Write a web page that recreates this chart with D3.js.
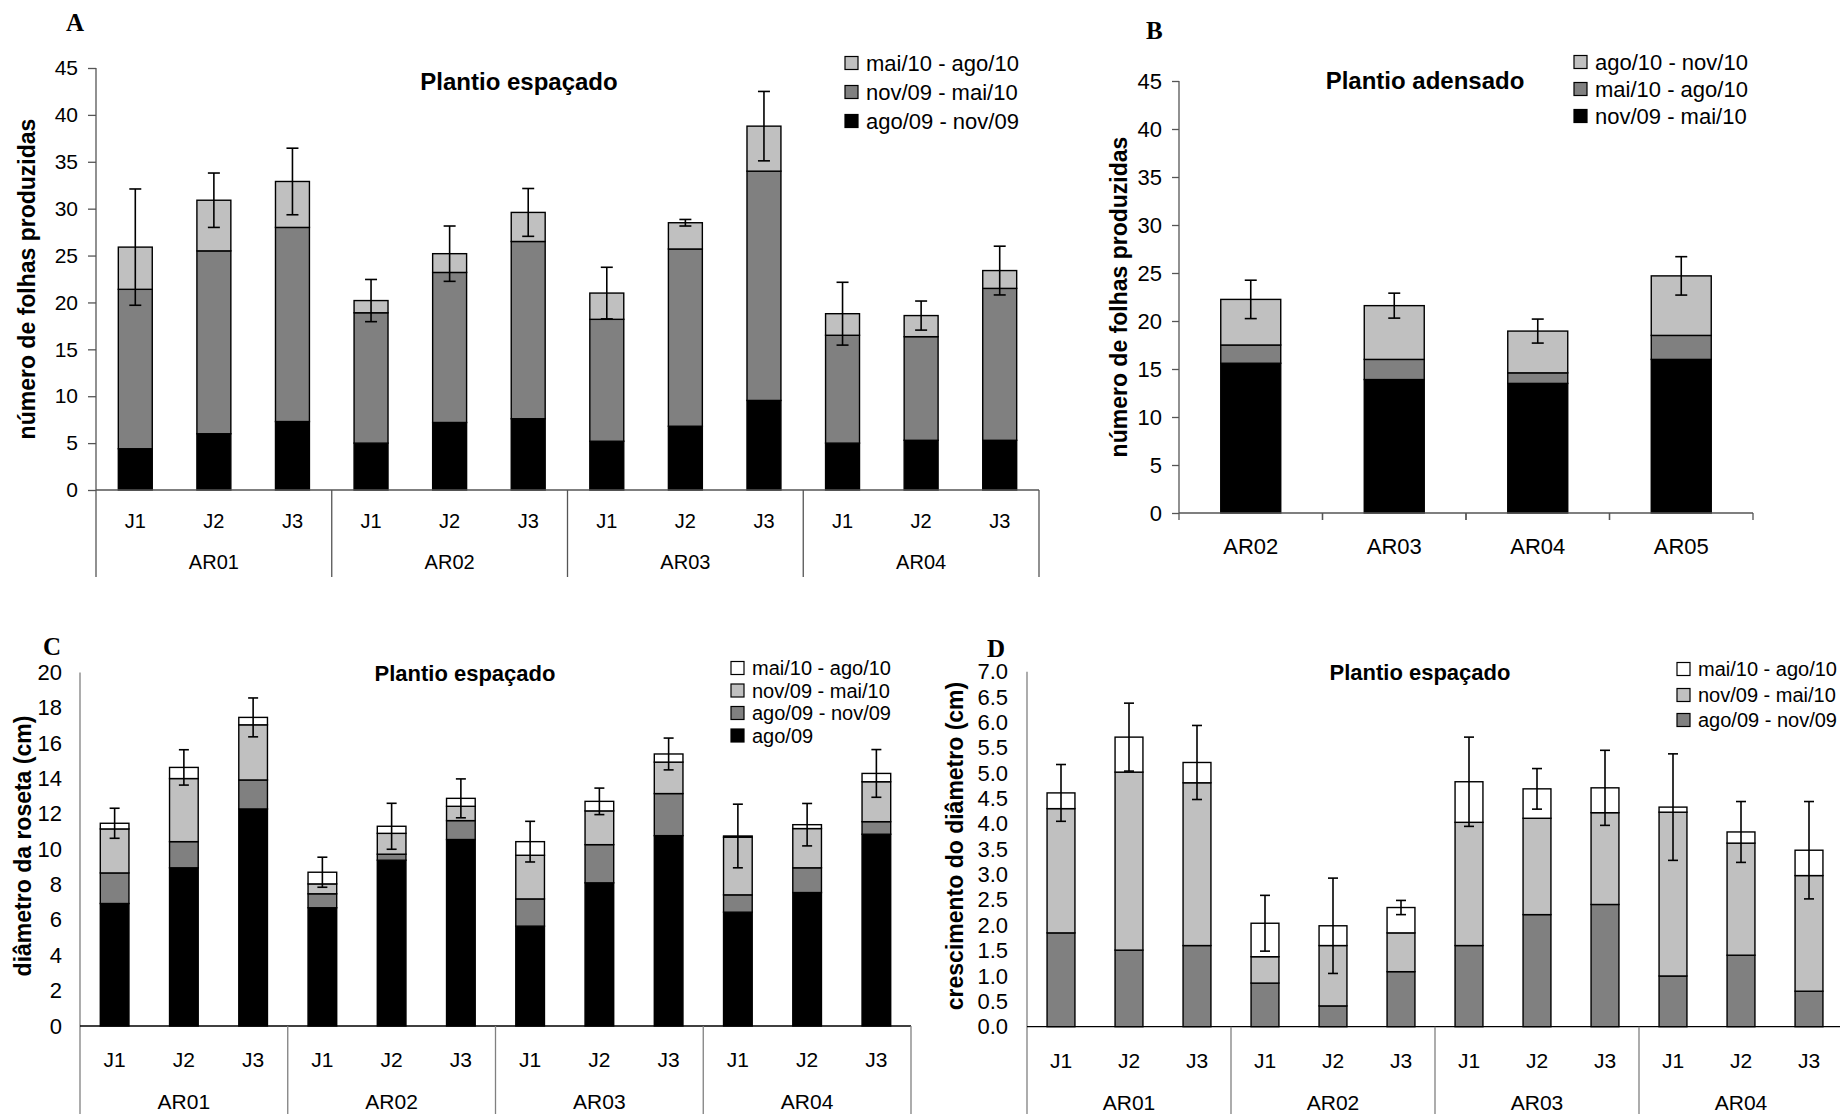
<!DOCTYPE html>
<html>
<head>
<meta charset="utf-8">
<script src="https://cdn.jsdelivr.net/npm/d3@7"></script>
<style>
  body { margin: 0; background: #fff; }
  svg { display: block; }
  text { font-family: "Liberation Sans", Arial, Helvetica, sans-serif; fill: #000; }
  text.letter { font-family: "Liberation Serif", "Times New Roman", serif; }
</style>
</head>
<body>
<svg id="fig" width="1840" height="1114"></svg>
<script>
// ---------------- data ----------------
const plots = ["AR01", "AR02", "AR03", "AR04"];
const clones = ["J1", "J2", "J3"];

// A - leaves produced per period, wide spacing (order: AR01 J1..J3, AR02 J1..J3, ...)
const leavesAgoNov09 = [4.4, 6.0, 7.3, 5.0, 7.2, 7.6, 5.2, 6.8, 9.55, 5.0, 5.3, 5.3];
const leavesNovMai10 = [17.0, 19.5, 20.7, 13.9, 16.0, 18.9, 13.0, 18.9, 24.45, 11.5, 11.05, 16.2];
const leavesMaiAgo10 = [4.5, 5.4, 4.9, 1.3, 2.0, 3.1, 2.8, 2.8, 4.8, 2.3, 2.25, 1.9];
const leavesErrA     = [6.2, 2.9, 3.55, 2.25, 2.95, 2.55, 2.75, 0.35, 3.7, 3.35, 1.55, 2.6];

// B - leaves produced per period, dense planting
const densePlots      = ["AR02", "AR03", "AR04", "AR05"];
const denseNovMai10   = [15.6, 13.9, 13.5, 16.0];
const denseMaiAgo10   = [1.9, 2.1, 1.1, 2.5];
const denseAgoNov10   = [4.75, 5.6, 4.35, 6.2];
const denseErr        = [2.0, 1.3, 1.25, 2.0];

// C - rosette diameter (cm): initial value plus increments
const rosetteAgo09    = [6.93, 8.95, 12.28, 6.69, 9.38, 10.55, 5.65, 8.1, 10.77, 6.44, 7.55, 10.85];
const rosetteAgoNov09 = [1.73, 1.48, 1.64, 0.79, 0.34, 1.07, 1.54, 2.16, 2.38, 0.98, 1.4, 0.71];
const rosetteNovMai10 = [2.49, 3.57, 3.12, 0.56, 1.18, 0.81, 2.47, 1.91, 1.78, 3.26, 2.22, 2.26];
const rosetteMaiAgo10 = [0.32, 0.63, 0.42, 0.66, 0.4, 0.45, 0.77, 0.54, 0.46, 0.07, 0.22, 0.47];
const rosetteErr      = [0.85, 1.0, 1.1, 0.85, 1.3, 1.1, 1.15, 0.75, 0.9, 1.8, 1.2, 1.35];

// D - diameter growth (cm) per period
const growthAgoNov09  = [1.85, 1.51, 1.60, 0.86, 0.41, 1.085, 1.60, 2.21, 2.41, 1.0, 1.41, 0.70];
const growthNovMai10  = [2.45, 3.51, 3.21, 0.52, 1.19, 0.765, 2.43, 1.9, 1.81, 3.23, 2.21, 2.28];
const growthMaiAgo10  = [0.31, 0.69, 0.40, 0.66, 0.39, 0.5, 0.8, 0.58, 0.49, 0.1, 0.22, 0.5];
const growthErr       = [0.56, 0.67, 0.73, 0.55, 0.94, 0.14, 0.88, 0.4, 0.74, 1.05, 0.6, 0.96];

const ticksA = d3.range(0, 46, 5);
const ticksC = d3.range(0, 21, 2);
const ticksD = d3.range(0, 7.01, 0.5);

// ---------------- styles ----------------
const BLACK = "#000000", DARK = "#808080", LIGHT = "#c0c0c0", WHITE = "#ffffff";

const svg = d3.select("#fig");

// rows for the grouped (plot x clone) panels
function groupedRows(keys, arrays, err) {
  const rows = [];
  plots.forEach((p, gi) => clones.forEach((c, ci) => {
    const i = gi * clones.length + ci;
    const r = { group: p, clone: c, err: err[i] };
    keys.forEach((k, j) => r[k] = arrays[j][i]);
    rows.push(r);
  }));
  return rows;
}

function drawPanel(cfg) {
  const g = svg.append("g");
  const y = d3.scaleLinear().domain([0, cfg.yMax]).range([cfg.yZero, cfg.yTop]);

  let x0, x1, xb, bw;
  if (cfg.clones) {
    x0 = d3.scaleBand().domain(cfg.groups).range([cfg.left, cfg.right]);
    x1 = d3.scaleBand().domain(cfg.clones).range([0, x0.bandwidth()])
      .paddingInner(cfg.pad).paddingOuter(cfg.pad / 2);
    xb = r => x0(r.group) + x1(r.clone);
    bw = x1.bandwidth();
  } else {
    x0 = d3.scaleBand().domain(cfg.groups).range([cfg.left, cfg.right])
      .paddingInner(cfg.pad).paddingOuter(cfg.pad / 2);
    xb = r => x0(r.group);
    bw = x0.bandwidth();
  }

  // stacked bars
  const stacked = d3.stack().keys(cfg.keys)(cfg.rows);
  g.append("g").selectAll("g").data(stacked).join("g")
    .attr("fill", (d, i) => cfg.colors[i])
    .selectAll("rect").data(d => d).join("rect")
    .attr("x", d => xb(d.data))
    .attr("width", bw)
    .attr("y", d => y(d[1]))
    .attr("height", d => y(d[0]) - y(d[1]))
    .attr("stroke", "#000")
    .attr("stroke-width", 1.4);

  // error bars on the stack totals
  const tot = r => d3.sum(cfg.keys, k => r[k]);
  const eb = g.append("g").attr("stroke", "#000").attr("stroke-width", 1.6).attr("fill", "none");
  cfg.rows.forEach(r => {
    const cx = xb(r) + bw / 2, t = tot(r);
    const y1 = y(t + r.err), y2 = y(t - r.err);
    eb.append("line").attr("x1", cx).attr("x2", cx).attr("y1", y1).attr("y2", y2);
    eb.append("line").attr("x1", cx - cfg.cap / 2).attr("x2", cx + cfg.cap / 2).attr("y1", y1).attr("y2", y1);
    eb.append("line").attr("x1", cx - cfg.cap / 2).attr("x2", cx + cfg.cap / 2).attr("y1", y2).attr("y2", y2);
  });

  // y axis
  const ya = g.append("g").attr("transform", `translate(${cfg.left},0)`)
    .call(d3.axisLeft(y).tickValues(cfg.yTicks).tickFormat(cfg.fmt)
      .tickSize(cfg.tickSize).tickPadding(cfg.tickPad));
  ya.attr("font-family", null).attr("font-size", null);
  ya.select(".domain").remove();
  ya.selectAll(".tick line").attr("stroke", cfg.axisColor).attr("stroke-width", 1.3);
  ya.selectAll(".tick text").attr("font-size", cfg.tickFont).attr("fill", "#000");

  // y axis line (runs down through the category rows)
  g.append("line").attr("x1", cfg.left).attr("x2", cfg.left)
    .attr("y1", cfg.yTop).attr("y2", cfg.catBottom)
    .attr("stroke", cfg.axisColor).attr("stroke-width", 1.3);
  // baseline
  g.append("line").attr("x1", cfg.left).attr("x2", cfg.right)
    .attr("y1", cfg.yZero).attr("y2", cfg.yZero)
    .attr("stroke", cfg.baseColor).attr("stroke-width", 1.3);

  if (cfg.clones) {
    // clone labels under each plot
    cfg.groups.forEach(p => {
      const a = g.append("g").attr("transform", `translate(${x0(p)},${cfg.yZero})`)
        .call(d3.axisBottom(x1).tickSize(0).tickPadding(cfg.subPad));
      a.attr("font-family", null).attr("font-size", null);
      a.select(".domain").remove();
      a.selectAll("text").attr("font-size", cfg.catFont).attr("fill", "#000");
    });
    // plot labels
    const a2 = g.append("g").attr("transform", `translate(0,${cfg.yZero})`)
      .call(d3.axisBottom(x0).tickSize(0).tickPadding(cfg.groupPad));
    a2.attr("font-family", null).attr("font-size", null);
    a2.select(".domain").remove();
    a2.selectAll("text").attr("font-size", cfg.catFont).attr("fill", "#000");
    // group dividers
    cfg.groups.forEach(p => {
      const xr = x0(p) + x0.bandwidth();
      g.append("line").attr("x1", xr).attr("x2", xr)
        .attr("y1", cfg.yZero).attr("y2", cfg.catBottom)
        .attr("stroke", cfg.axisColor).attr("stroke-width", 1.3);
    });
  } else {
    const a = g.append("g").attr("transform", `translate(0,${cfg.yZero})`)
      .call(d3.axisBottom(x0).tickSize(0).tickPadding(cfg.groupPad));
    a.attr("font-family", null).attr("font-size", null);
    a.select(".domain").remove();
    a.selectAll("text").attr("font-size", cfg.catFont).attr("fill", "#000");
    // tick marks between categories
    cfg.groups.forEach((p, i) => {
      const xl = cfg.left + i * x0.step();
      [xl, xl + x0.step()].forEach(xx => {
        g.append("line").attr("x1", xx).attr("x2", xx)
          .attr("y1", cfg.yZero).attr("y2", cfg.yZero + 7)
          .attr("stroke", cfg.axisColor).attr("stroke-width", 1.3);
      });
    });
  }

  // title
  g.append("text").attr("x", cfg.title.x).attr("y", cfg.title.y)
    .attr("text-anchor", "middle").attr("dominant-baseline", "central")
    .attr("font-weight", "bold").attr("font-size", cfg.title.size)
    .text(cfg.title.text);

  // y axis title
  g.append("text")
    .attr("transform", `translate(${cfg.ylab.x},${cfg.ylab.y}) rotate(-90)`)
    .attr("text-anchor", "middle").attr("dominant-baseline", "central")
    .attr("font-weight", "bold").attr("font-size", cfg.ylab.size)
    .text(cfg.ylab.text);

  // panel letter
  g.append("text").attr("class", "letter")
    .attr("x", cfg.letter.x).attr("y", cfg.letter.y)
    .attr("font-weight", "bold").attr("font-size", 25)
    .text(cfg.letter.text);

  // legend
  const lg = g.append("g");
  cfg.legend.items.forEach((it, i) => {
    const cy = cfg.legend.rows[i];
    lg.append("rect").attr("x", cfg.legend.x).attr("y", cy - 6.5)
      .attr("width", 13).attr("height", 13)
      .attr("fill", it.fill).attr("stroke", "#000").attr("stroke-width", 1.2);
    lg.append("text").attr("x", cfg.legend.x + 21).attr("y", cy)
      .attr("dominant-baseline", "central").attr("font-size", cfg.legend.size)
      .text(it.label);
  });
}

// ---------------- panel A ----------------
const keysA = ["agoNov09", "novMai10", "maiAgo10"];
drawPanel({
  rows: groupedRows(keysA, [leavesAgoNov09, leavesNovMai10, leavesMaiAgo10], leavesErrA),
  keys: keysA, colors: [BLACK, DARK, LIGHT],
  groups: plots, clones: clones, pad: 0.568,
  left: 96, right: 1039, yTop: 68, yZero: 490, catBottom: 577, yMax: 45,
  yTicks: ticksA, fmt: d3.format("d"), tickSize: 8, tickPad: 10, tickFont: 21,
  axisColor: "#555", baseColor: "#555",
  subPad: 23.5, groupPad: 64.5, catFont: 20, cap: 12,
  title: { text: "Plantio espaçado", x: 519, y: 81, size: 24 },
  ylab: { text: "número de folhas produzidas", x: 27, y: 279, size: 23 },
  letter: { text: "A", x: 66, y: 31 },
  legend: { x: 845, rows: [63, 92, 121], size: 22, items: [
    { label: "mai/10 - ago/10", fill: LIGHT },
    { label: "nov/09 - mai/10", fill: DARK },
    { label: "ago/09 - nov/09", fill: BLACK }] }
});

// ---------------- panel B ----------------
const keysB = ["novMai10", "maiAgo10", "agoNov10"];
const rowsB = densePlots.map((p, i) => ({
  group: p, err: denseErr[i],
  novMai10: denseNovMai10[i], maiAgo10: denseMaiAgo10[i], agoNov10: denseAgoNov10[i]
}));
drawPanel({
  rows: rowsB, keys: keysB, colors: [BLACK, DARK, LIGHT],
  groups: densePlots, clones: null, pad: 0.582,
  left: 1179, right: 1753, yTop: 81, yZero: 513, catBottom: 513, yMax: 45,
  yTicks: ticksA, fmt: d3.format("d"), tickSize: 7, tickPad: 10, tickFont: 22,
  axisColor: "#555", baseColor: "#555",
  groupPad: 25.5, catFont: 22, cap: 12,
  title: { text: "Plantio adensado", x: 1425, y: 80, size: 24 },
  ylab: { text: "número de folhas produzidas", x: 1119, y: 297, size: 23 },
  letter: { text: "B", x: 1146, y: 39 },
  legend: { x: 1574, rows: [62, 89, 116], size: 22, items: [
    { label: "ago/10 - nov/10", fill: LIGHT },
    { label: "mai/10 - ago/10", fill: DARK },
    { label: "nov/09 - mai/10", fill: BLACK }] }
});

// ---------------- panel C ----------------
const keysC = ["ago09", "agoNov09", "novMai10", "maiAgo10"];
drawPanel({
  rows: groupedRows(keysC, [rosetteAgo09, rosetteAgoNov09, rosetteNovMai10, rosetteMaiAgo10], rosetteErr),
  keys: keysC, colors: [BLACK, DARK, LIGHT, WHITE],
  groups: plots, clones: clones, pad: 0.586,
  left: 80, right: 911, yTop: 672.5, yZero: 1026, catBottom: 1114, yMax: 20,
  yTicks: ticksC, fmt: d3.format("d"), tickSize: 0, tickPad: 18, tickFont: 22,
  axisColor: "#808080", baseColor: "#000",
  subPad: 26.5, groupPad: 68.5, catFont: 21, cap: 10,
  title: { text: "Plantio espaçado", x: 465, y: 673, size: 22 },
  ylab: { text: "diâmetro da roseta (cm)", x: 23, y: 846, size: 23 },
  letter: { text: "C", x: 43, y: 655 },
  legend: { x: 731, rows: [668, 690.5, 713, 735.5], size: 20, items: [
    { label: "mai/10 - ago/10", fill: WHITE },
    { label: "nov/09 - mai/10", fill: LIGHT },
    { label: "ago/09 - nov/09", fill: DARK },
    { label: "ago/09", fill: BLACK }] }
});

// ---------------- panel D ----------------
const keysD = ["agoNov09", "novMai10", "maiAgo10"];
drawPanel({
  rows: groupedRows(keysD, [growthAgoNov09, growthNovMai10, growthMaiAgo10], growthErr),
  keys: keysD, colors: [DARK, LIGHT, WHITE],
  groups: plots, clones: clones, pad: 0.59,
  left: 1027, right: 1843, yTop: 671.7, yZero: 1026.7, catBottom: 1114, yMax: 7,
  yTicks: ticksD, fmt: d3.format(".1f"), tickSize: 0, tickPad: 19, tickFont: 22,
  axisColor: "#808080", baseColor: "#000",
  subPad: 26, groupPad: 68, catFont: 21, cap: 10,
  title: { text: "Plantio espaçado", x: 1420, y: 672, size: 22 },
  ylab: { text: "crescimento do diâmetro (cm)", x: 955, y: 846, size: 23 },
  letter: { text: "D", x: 987, y: 657 },
  legend: { x: 1677, rows: [669, 695, 720], size: 20, items: [
    { label: "mai/10 - ago/10", fill: WHITE },
    { label: "nov/09 - mai/10", fill: LIGHT },
    { label: "ago/09 - nov/09", fill: DARK }] }
});
</script>
</body>
</html>
